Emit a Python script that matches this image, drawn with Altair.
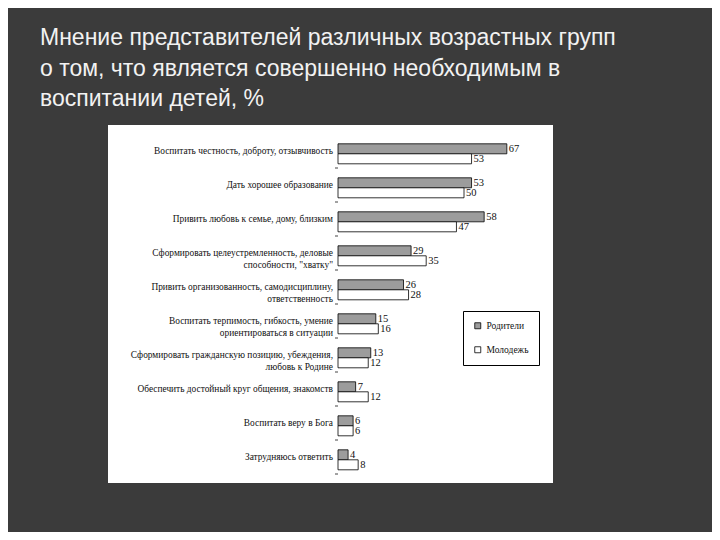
import altair as alt
import pandas as pd

title_lines = [
    "Мнение представителей различных возрастных групп",
    "о том, что является совершенно необходимым в",
    "воспитании детей, %",
]

categories = [
    "Воспитать честность, доброту, отзывчивость",
    "Дать хорошее образование",
    "Привить любовь к семье, дому, близким",
    "Сформировать целеустремленность, деловые\nспособности, \"хватку\"",
    "Привить организованность, самодисциплину,\nответственность",
    "Воспитать терпимость, гибкость, умение\nориентироваться в ситуации",
    "Сформировать гражданскую позицию, убеждения,\nлюбовь к Родине",
    "Обеспечить достойный круг общения, знакомств",
    "Воспитать веру в Бога",
    "Затрудняюсь ответить",
]
series = ["Родители", "Молодежь"]
parents = [67, 53, 58, 29, 26, 15, 13, 7, 6, 4]
youth = [53, 50, 47, 35, 28, 16, 12, 12, 6, 8]

rows = []
for c, p, y in zip(categories, parents, youth):
    rows.append({"cat": c, "series": series[0], "value": p})
    rows.append({"cat": c, "series": series[1], "value": y})
df = pd.DataFrame(rows)
cat_df = pd.DataFrame({"cat": categories})
title_df = pd.DataFrame({"t": ["\n".join(title_lines)]})

xs = alt.Scale(domain=[0, 100], range=[330, 582])
ys = alt.Scale(domain=categories, range=[126, 466], paddingInner=0, paddingOuter=0)
yo = alt.Scale(domain=series, paddingInner=0, paddingOuter=0.7, align=0.7)

box = alt.Chart(alt.Data(values=[{}])).mark_rect(fill="white").encode(
    x=alt.value(100), x2=alt.value(545), y=alt.value(117), y2=alt.value(475)
)

bars = alt.Chart(df).mark_bar(stroke="black", strokeWidth=0.8).encode(
    x=alt.X("value:Q", scale=xs, axis=None),
    y=alt.Y("cat:N", scale=ys, axis=None, sort=categories),
    yOffset=alt.YOffset("series:N", scale=yo, sort=series),
    fill=alt.Fill(
        "series:N",
        scale=alt.Scale(domain=series, range=["#9c9c9c", "#ffffff"]),
        legend=alt.Legend(
            title=None, orient="none", legendX=455, legendY=303,
            strokeColor="black", fillColor="white", padding=10,
            labelFont="Liberation Serif", labelFontSize=9.5, labelColor="#111",
            symbolType="square", symbolSize=36, symbolStrokeColor="black",
            symbolStrokeWidth=0.8, rowPadding=13, labelLimit=200,
        ),
    ),
)

vals = alt.Chart(df).mark_text(
    align="left", baseline="middle", dx=2, font="Liberation Serif",
    fontSize=10.5, color="#111"
).encode(
    x=alt.X("value:Q", scale=xs, axis=None),
    y=alt.Y("cat:N", scale=ys, axis=None, sort=categories),
    yOffset=alt.YOffset("series:N", scale=yo, sort=series),
    text="value:Q",
)

cats = alt.Chart(cat_df).mark_text(
    align="right", baseline="middle", lineBreak="\n", lineHeight=11.5,
    font="Liberation Serif", fontSize=9.4, color="#111"
).encode(
    x=alt.value(325),
    y=alt.Y("cat:N", scale=ys, axis=None, sort=categories),
    text="cat:N",
)

ticks = alt.Chart(cat_df).mark_rule(color="#444", strokeWidth=1).encode(
    x=alt.value(327), x2=alt.value(330),
    y=alt.Y("cat:N", scale=ys, axis=None, sort=categories, bandPosition=1),
)

title = alt.Chart(title_df).mark_text(
    align="left", baseline="alphabetic", lineBreak="\n", lineHeight=30.5,
    font="Liberation Sans", fontSize=23, color="#f2f2f2"
).encode(x=alt.value(32), y=alt.value(37), text="t:N")

chart = alt.layer(box, bars, vals, cats, ticks, title).properties(
    width=704, height=524, padding=0,
    autosize=alt.AutoSizeParams(type="none"),
).configure(background="#3b3b3b").configure_view(stroke=None)

chart.save("out.html", embed_options={"renderer": "svg", "actions": False})
